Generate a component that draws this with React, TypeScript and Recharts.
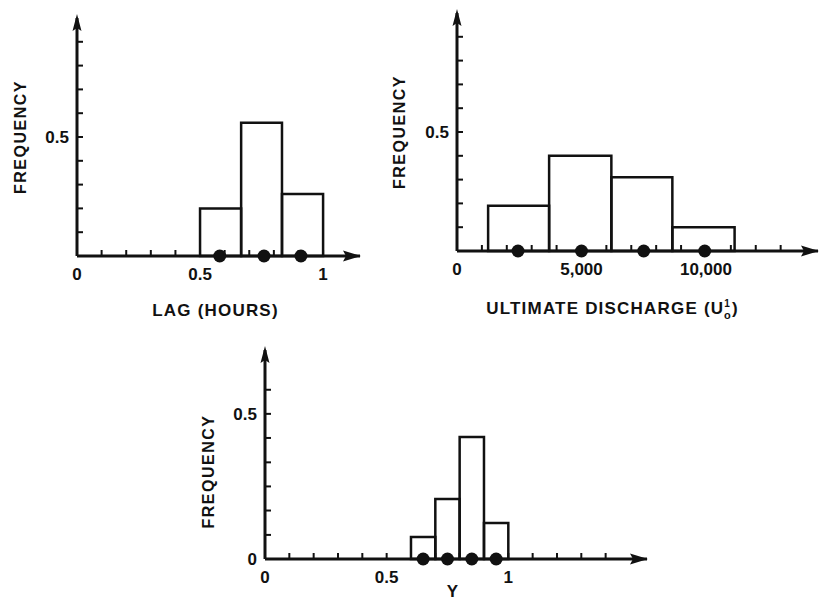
import React from 'react';
import { ComposedChart, XAxis, YAxis, Scatter, ReferenceArea, ReferenceDot, Label } from 'recharts';

const INK = '#111111';
const FONT = '"Liberation Sans", Arial, sans-serif';

// --- lag (hours) ---
const lagEdges = [0.5, 0.667, 0.833, 1.0];
const lagFreq = [0.2, 0.56, 0.26];
const lagMarks = [0.58, 0.76, 0.91];
const lagXTicks = [0, 0.1, 0.2, 0.3, 0.4, 0.5, 0.6, 0.7, 0.8, 0.9, 1.0];
const lagXLabels = [0, 0.5, 1];
const lagYTicks = [0.1, 0.2, 0.3, 0.4, 0.5, 0.6, 0.7, 0.8, 0.9];
const lagYLabels = [0.5];

// --- ultimate discharge ---
const dischargeEdges = [1250, 3700, 6200, 8650, 11150];
const dischargeFreq = [0.19, 0.4, 0.31, 0.1];
const dischargeMarks = [2450, 5000, 7500, 9950];
const dischargeXTicks = [0, 1000, 2000, 3000, 4000, 5000, 6000, 7000, 8000, 9000, 10000, 11000, 12000, 13000];
const dischargeXLabels = [0, 5000, 10000];
const dischargeYTicks = [0.1, 0.2, 0.3, 0.4, 0.5, 0.6, 0.7, 0.8, 0.9];
const dischargeYLabels = [0.5];

// --- Y ---
const yEdges = [0.6, 0.7, 0.8, 0.9, 1.0];
const yFreq = [0.076, 0.207, 0.42, 0.124];
const yMarks = [0.65, 0.75, 0.85, 0.95];
const yXTicks = [0, 0.1, 0.2, 0.3, 0.4, 0.5, 0.6, 0.7, 0.8, 0.9, 1.0, 1.1, 1.2, 1.3, 1.4];
const yXLabels = [0, 0.5, 1];
const yYTicks = [0, 0.083, 0.167, 0.25, 0.333, 0.417, 0.5, 0.583];
const yYLabels = [0, 0.5];

const txt = { fontFamily: FONT, fontWeight: 700, fill: INK } as const;

const has = (list: number[], v: number) => list.some((l) => Math.abs(l - v) < 1e-9);
const fmtPlain = (v: number) => String(v);
const fmtThousands = (v: number) => v.toLocaleString('en-US');

const XTick = (props: any) => {
  const { x, y, payload, labels, fmt } = props;
  const v = payload.value;
  return (
    <g>
      {v !== 0 && <line x1={x} x2={x} y1={y} y2={y - 6} stroke={INK} strokeWidth={2} />}
      {has(labels, v) && (
        <text x={x} y={y + 24} textAnchor="middle" fontSize={17} {...txt}>
          {fmt(v)}
        </text>
      )}
    </g>
  );
};

const YTick = (props: any) => {
  const { x, y, payload, labels } = props;
  const v = payload.value;
  return (
    <g>
      {v !== 0 && <line x1={x} x2={x + 6} y1={y} y2={y} stroke={INK} strokeWidth={2} />}
      {has(labels, v) && (
        <text x={x - 8} y={y + 6} textAnchor="end" fontSize={17} {...txt}>
          {fmtPlain(v)}
        </text>
      )}
    </g>
  );
};

const ArrowRight = (p: any) => (
  <path d={`M${p.cx + 1},${p.cy} L${p.cx - 17},${p.cy - 5.5} L${p.cx - 14},${p.cy} L${p.cx - 17},${p.cy + 5.5} Z`} fill={INK} />
);
const ArrowUp = (p: any) => (
  <path d={`M${p.cx},${p.cy - 4} L${p.cx - 4.5},${p.cy + 13} L${p.cx},${p.cy + 10} L${p.cx + 4.5},${p.cy + 13} Z`} fill={INK} />
);
const BigDot = (p: any) => <circle cx={p.cx} cy={p.cy} r={6.5} fill={INK} />;

type HistProps = {
  left: number;
  top: number;
  width: number;
  height: number;
  margin: { top: number; right: number; bottom: number; left: number };
  yAxisWidth: number;
  xAxisHeight: number;
  xMax: number;
  yMax: number;
  edges: number[];
  freq: number[];
  marks: number[];
  xTicks: number[];
  xLabels: number[];
  yTicks: number[];
  yLabels: number[];
  fmt: (v: number) => string;
  title: React.ReactNode;
  titleDx: number;
  titleDy: number;
  freqX: number;
  freqDy: number;
};

const Histogram = (h: HistProps) => {
  const dots = h.marks.map((m) => ({ x: m, y: 0 }));
  return (
    <div style={{ position: 'absolute', left: h.left, top: h.top }}>
      <ComposedChart width={h.width} height={h.height} margin={h.margin}>
        <XAxis
          type="number"
          dataKey="x"
          domain={[0, h.xMax]}
          ticks={h.xTicks}
          interval={0}
          height={h.xAxisHeight}
          tickSize={0}
          tickMargin={0}
          tickLine={false}
          axisLine={{ stroke: INK, strokeWidth: 3 }}
          tick={(p: any) => <XTick {...p} labels={h.xLabels} fmt={h.fmt} />}
          label={
            <Label
              content={(p: any) => {
                const vb = p.viewBox;
                return (
                  <text x={vb.x + vb.width / 2 + h.titleDx} y={vb.y + h.titleDy} textAnchor="middle" fontSize={17} letterSpacing={1.2} {...txt}>
                    {h.title}
                  </text>
                );
              }}
            />
          }
        />
        <YAxis
          type="number"
          dataKey="y"
          domain={[0, h.yMax]}
          ticks={h.yTicks}
          interval={0}
          width={h.yAxisWidth}
          tickSize={0}
          tickMargin={0}
          tickLine={false}
          axisLine={{ stroke: INK, strokeWidth: 3 }}
          tick={(p: any) => <YTick {...p} labels={h.yLabels} />}
          label={
            <Label
              content={(p: any) => {
                const vb = p.viewBox;
                const cx = vb.x + h.freqX;
                const cy = vb.y + vb.height / 2 + h.freqDy;
                return (
                  <text
                    x={cx}
                    y={cy}
                    textAnchor="middle"
                    dominantBaseline="central"
                    transform={`rotate(-90, ${cx}, ${cy})`}
                    fontSize={16}
                    letterSpacing={1.5}
                    {...txt}
                  >
                    FREQUENCY
                  </text>
                );
              }}
            />
          }
        />
        {h.freq.map((f, i) => (
          <ReferenceArea
            key={i}
            x1={h.edges[i]}
            x2={h.edges[i + 1]}
            y1={0}
            y2={f}
            fill="none"
            stroke={INK}
            strokeWidth={2.5}
            ifOverflow="visible"
          />
        ))}
        <ReferenceDot x={h.xMax} y={0} shape={ArrowRight} ifOverflow="visible" />
        <ReferenceDot x={0} y={h.yMax} shape={ArrowUp} ifOverflow="visible" />
        <Scatter data={dots} dataKey="y" shape={BigDot} isAnimationActive={false} />
      </ComposedChart>
    </div>
  );
};

const App = () => (
  <div style={{ position: 'absolute', left: 0, top: 0, width: 821, height: 602, background: '#fff' }}>
    <Histogram
      left={0}
      top={0}
      width={400}
      height={330}
      margin={{ top: 18, right: 40, bottom: 0, left: 0 }}
      yAxisWidth={77}
      xAxisHeight={74}
      xMax={1.15}
      yMax={1}
      edges={lagEdges}
      freq={lagFreq}
      marks={lagMarks}
      xTicks={lagXTicks}
      xLabels={lagXLabels}
      yTicks={lagYTicks}
      yLabels={lagYLabels}
      fmt={fmtPlain}
      title="LAG (HOURS)"
      titleDx={-3}
      titleDy={60}
      freqX={20}
      freqDy={0}
    />
    <Histogram
      left={380}
      top={0}
      width={441}
      height={330}
      margin={{ top: 13, right: 3, bottom: 0, left: 0 }}
      yAxisWidth={77}
      xAxisHeight={79}
      xMax={14500}
      yMax={1}
      edges={dischargeEdges}
      freq={dischargeFreq}
      marks={dischargeMarks}
      xTicks={dischargeXTicks}
      xLabels={dischargeXLabels}
      yTicks={dischargeYTicks}
      yLabels={dischargeYLabels}
      fmt={fmtThousands}
      title={
        <>
          <tspan>ULTIMATE DISCHARGE (U</tspan>
          <tspan dy={-7} fontSize={10}>1</tspan>
          <tspan dx={-7} dy={12} fontSize={11}>o</tspan>
          <tspan dy={-5}>)</tspan>
        </>
      }
      titleDx={-25}
      titleDy={63}
      freqX={19}
      freqDy={0}
    />
    <Histogram
      left={180}
      top={330}
      width={480}
      height={272}
      margin={{ top: 20, right: 13, bottom: 0, left: 0 }}
      yAxisWidth={85}
      xAxisHeight={43}
      xMax={1.57}
      yMax={0.72}
      edges={yEdges}
      freq={yFreq}
      marks={yMarks}
      xTicks={yXTicks}
      xLabels={yXLabels}
      yTicks={yYTicks}
      yLabels={yYLabels}
      fmt={fmtPlain}
      title="Y"
      titleDx={-3}
      titleDy={38}
      freqX={28}
      freqDy={17}
    />
  </div>
);

export default App;
